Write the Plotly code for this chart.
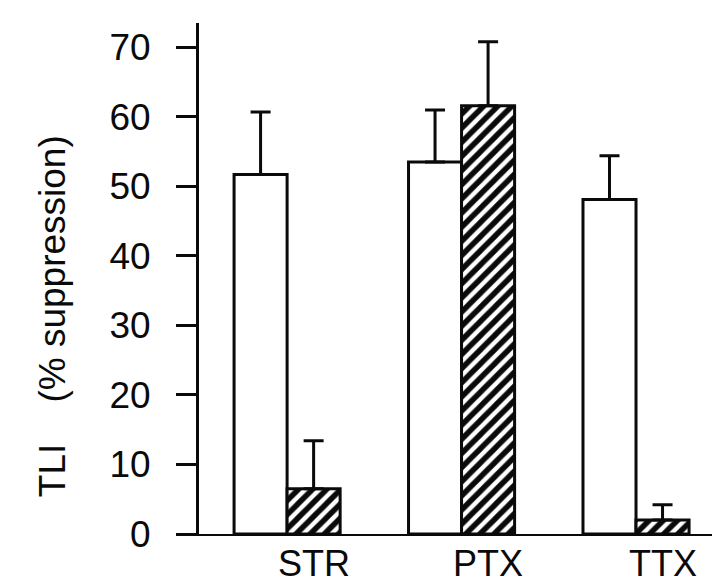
import plotly.graph_objects as go

# valores
categorias = ['STR', 'PTX', 'TTX']
control = [51.7, 53.5, 48.1]
control_err = [9.0, 7.5, 6.3]
tratado = [6.5, 61.6, 2.0]
tratado_err = [6.9, 9.2, 2.2]

FUENTE = 'Liberation Sans, Arial, sans-serif'
NEGRO = '#0a0a0a'

ancho = 0.304
pos = list(range(len(categorias)))

fig = go.Figure()
fig.add_trace(go.Bar(
    x=[p - ancho / 2 for p in pos], y=control, width=ancho,
    marker=dict(color='white', line=dict(color=NEGRO, width=3)),
    error_y=dict(type='data', symmetric=False, array=control_err,
                 arrayminus=[0] * len(control), color=NEGRO,
                 thickness=3, width=10),
    showlegend=False,
))
fig.add_trace(go.Bar(
    x=[p + ancho / 2 for p in pos], y=tratado, width=ancho,
    marker=dict(color='white', line=dict(color=NEGRO, width=3),
                pattern=dict(shape='/', fgcolor=NEGRO, bgcolor='white',
                             size=10, solidity=0.55)),
    error_y=dict(type='data', symmetric=False, array=tratado_err,
                 arrayminus=[0] * len(tratado), color=NEGRO,
                 thickness=3, width=10),
    showlegend=False,
))

# etiquetas de categoria como anotaciones, cerca del borde inferior
etiquetas = [dict(text=c, x=p + ancho / 2, xref='x',
                  y=-58 / 511, yref='paper', yanchor='bottom', yshift=7,
                  showarrow=False, borderpad=0,
                  font=dict(size=36, color=NEGRO, family=FUENTE))
             for p, c in zip(pos, categorias)]

fig.update_layout(
    template='none',
    width=720, height=584,
    margin=dict(l=191, r=3, t=15, b=58),
    paper_bgcolor='white', plot_bgcolor='white',
    barmode='overlay',
    font=dict(family=FUENTE, size=37, color=NEGRO),
    xaxis=dict(range=[-0.505, 2.51], showgrid=False, zeroline=False,
               automargin=False, showticklabels=False,
               showline=True, linecolor=NEGRO, linewidth=2, ticks=''),
    yaxis=dict(range=[0, 73.5], dtick=10, showgrid=False, zeroline=False,
               automargin=False,
               showline=True, linecolor=NEGRO, linewidth=3,
               ticks='outside', ticklen=20, tickwidth=3, tickcolor=NEGRO,
               ticklabelstandoff=18, tickfont=dict(size=37)),
    annotations=etiquetas + [dict(
        text='TLI\u00a0\u00a0\u00a0\u00a0(% suppression)',
        xref='paper', yref='paper', x=-0.321, y=0.4256,
        textangle=-90, showarrow=False,
        font=dict(size=37, color=NEGRO, family=FUENTE),
    )],
)

fig.write_html('out.html')
